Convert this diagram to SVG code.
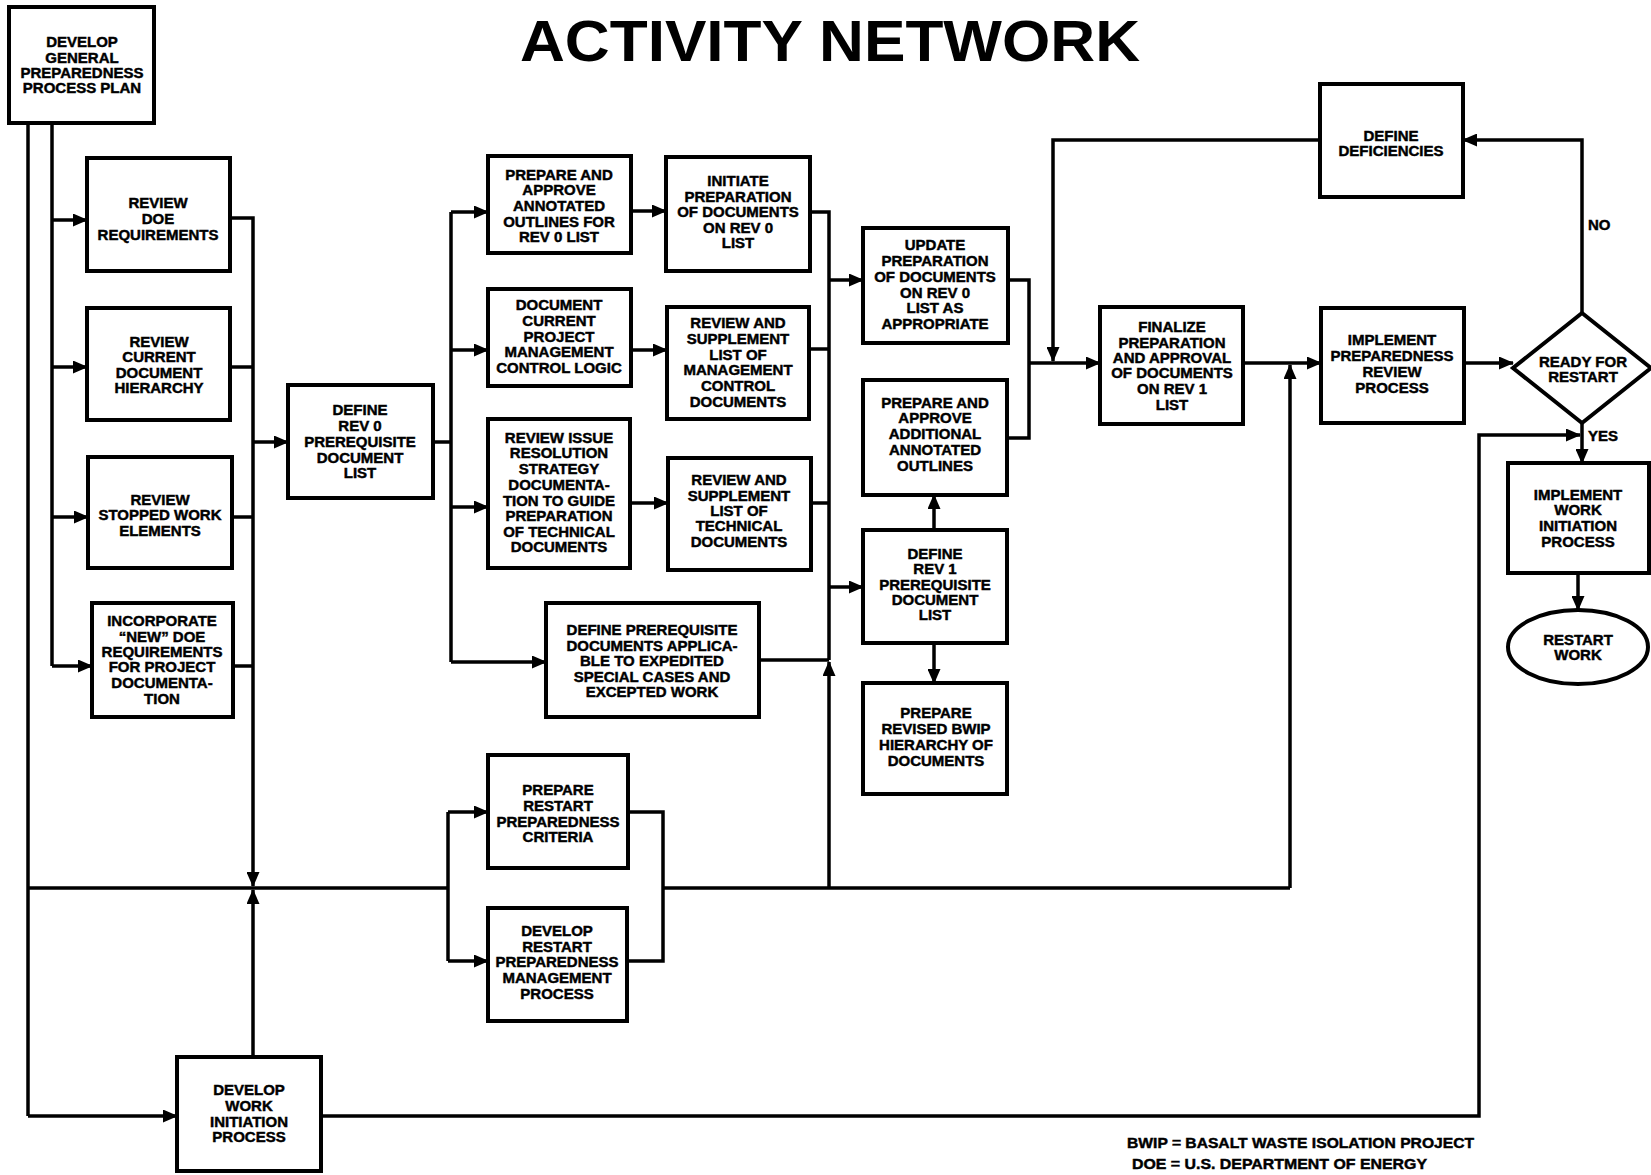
<svg xmlns="http://www.w3.org/2000/svg" width="1651" height="1175" viewBox="0 0 1651 1175">
<style>
.box{fill:#fff;stroke:#000;stroke-width:4}
.c{fill:none;stroke:#000;stroke-width:3.5;stroke-linejoin:miter}
.a{marker-end:url(#ah)}
.t{font-family:"Liberation Sans",Arial,Helvetica,sans-serif;font-weight:bold;font-size:15px;text-anchor:middle;fill:#000;stroke:#000;stroke-width:0.45}
.lbl{font-family:"Liberation Sans",Arial,Helvetica,sans-serif;font-weight:bold;font-size:15px;fill:#000;stroke:#000;stroke-width:0.45}
.title{font-family:"Liberation Sans",Arial,Helvetica,sans-serif;font-weight:bold;font-size:57px;text-anchor:middle;fill:#000}
</style>
<defs>
<marker id="ah" markerUnits="userSpaceOnUse" markerWidth="15" markerHeight="13" refX="14" refY="6.5" orient="auto">
<path d="M0,0 L15,6.5 L0,13 z" fill="#000"/>
</marker>
</defs>
<rect width="1651" height="1175" fill="#fff"/>
<text class="title" x="830" y="61" textLength="620" lengthAdjust="spacingAndGlyphs">ACTIVITY NETWORK</text>

<g id="connectors">
<path class="c" d="M28,123 V1116"/>
<path class="c a" d="M28,1116 H177"/>
<path class="c" d="M52,123 V666"/>
<path class="c a" d="M52,220 H87"/>
<path class="c a" d="M52,367 H87"/>
<path class="c a" d="M52,517 H88"/>
<path class="c a" d="M52,666 H92"/>
<path class="c" d="M28,888 H448"/>
<path class="c" d="M448,812 V961"/>
<path class="c a" d="M448,812 H488"/>
<path class="c a" d="M448,961 H488"/>
<path class="c" d="M230,218 H253 V442"/>
<path class="c a" d="M253,442 V886"/>
<path class="c" d="M230,367 H253"/>
<path class="c" d="M232,517 H253"/>
<path class="c" d="M233,666 H253"/>
<path class="c a" d="M253,442 H288"/>
<path class="c a" d="M253,1057 V890"/>
<path class="c" d="M433,442 H451"/>
<path class="c" d="M451,212 V662"/>
<path class="c a" d="M451,212 H488"/>
<path class="c a" d="M451,350 H488"/>
<path class="c a" d="M451,507 H488"/>
<path class="c a" d="M451,662 H546"/>
<path class="c a" d="M631,211 H666"/>
<path class="c a" d="M631,350 H667"/>
<path class="c a" d="M630,503 H668"/>
<path class="c" d="M810,212 H829 V660"/>
<path class="c" d="M809,349 H829"/>
<path class="c" d="M811,503 H829"/>
<path class="c" d="M759,660 H829"/>
<path class="c a" d="M829,280 H863"/>
<path class="c a" d="M829,587 H863"/>
<path class="c a" d="M829,888 V662"/>
<path class="c" d="M628,812 H663 V961 H627"/>
<path class="c" d="M663,888 H1290"/>
<path class="c a" d="M1290,888 V365"/>
<path class="c a" d="M934,530 V495"/>
<path class="c a" d="M934,643 V683"/>
<path class="c" d="M1008,280 H1029 V438 H1007"/>
<path class="c a" d="M1029,363 H1100"/>
<path class="c a" d="M1320,140 H1053 V361"/>
<path class="c a" d="M1243,363 H1321"/>
<path class="c a" d="M1464,363 H1513"/>
<path class="c a" d="M1582,313 V140 H1463"/>
<path class="c a" d="M1582,423 V463"/>
<path class="c a" d="M321,1116 H1479 V435 H1580"/>
<path class="c a" d="M1578,573 V610"/>
<text class="lbl" x="1588" y="230">NO</text>
<text class="lbl" x="1588" y="441">YES</text>
</g>

<g id="dev_general"><rect class="box" x="9" y="7" width="145" height="116"/>
<text class="t" x="82" y="47">DEVELOP</text><text class="t" x="82" y="63">GENERAL</text><text class="t" x="82" y="78">PREPAREDNESS</text><text class="t" x="82" y="93">PROCESS PLAN</text></g>

<g id="review_doe"><rect class="box" x="87" y="158" width="143" height="113"/>
<text class="t" x="158" y="208">REVIEW</text><text class="t" x="158" y="224">DOE</text><text class="t" x="158" y="240">REQUIREMENTS</text></g>

<g id="review_current"><rect class="box" x="87" y="308" width="143" height="112"/>
<text class="t" x="159" y="347">REVIEW</text><text class="t" x="159" y="362">CURRENT</text><text class="t" x="159" y="378">DOCUMENT</text><text class="t" x="159" y="393">HIERARCHY</text></g>

<g id="review_stopped"><rect class="box" x="88" y="457" width="144" height="111"/>
<text class="t" x="160" y="505">REVIEW</text><text class="t" x="160" y="520">STOPPED WORK</text><text class="t" x="160" y="536">ELEMENTS</text></g>

<g id="incorporate"><rect class="box" x="92" y="603" width="141" height="114"/>
<text class="t" x="162" y="626">INCORPORATE</text><text class="t" x="162" y="642">“NEW” DOE</text><text class="t" x="162" y="657">REQUIREMENTS</text><text class="t" x="162" y="672">FOR PROJECT</text><text class="t" x="162" y="688">DOCUMENTA-</text><text class="t" x="162" y="704">TION</text></g>

<g id="define_rev0"><rect class="box" x="288" y="385" width="145" height="113"/>
<text class="t" x="360" y="415">DEFINE</text><text class="t" x="360" y="431">REV 0</text><text class="t" x="360" y="447">PREREQUISITE</text><text class="t" x="360" y="463">DOCUMENT</text><text class="t" x="360" y="478">LIST</text></g>

<g id="prepare_annotated"><rect class="box" x="488" y="156" width="143" height="97"/>
<text class="t" x="559" y="180">PREPARE AND</text><text class="t" x="559" y="195">APPROVE</text><text class="t" x="559" y="211">ANNOTATED</text><text class="t" x="559" y="227">OUTLINES FOR</text><text class="t" x="559" y="242">REV 0 LIST</text></g>

<g id="initiate_prep"><rect class="box" x="666" y="157" width="144" height="114"/>
<text class="t" x="738" y="186">INITIATE</text><text class="t" x="738" y="202">PREPARATION</text><text class="t" x="738" y="217">OF DOCUMENTS</text><text class="t" x="738" y="233">ON REV 0</text><text class="t" x="738" y="248">LIST</text></g>

<g id="document_current"><rect class="box" x="488" y="289" width="143" height="97"/>
<text class="t" x="559" y="310">DOCUMENT</text><text class="t" x="559" y="326">CURRENT</text><text class="t" x="559" y="342">PROJECT</text><text class="t" x="559" y="357">MANAGEMENT</text><text class="t" x="559" y="373">CONTROL LOGIC</text></g>

<g id="review_supp_mgmt"><rect class="box" x="667" y="307" width="142" height="112"/>
<text class="t" x="738" y="328">REVIEW AND</text><text class="t" x="738" y="344">SUPPLEMENT</text><text class="t" x="738" y="360">LIST OF</text><text class="t" x="738" y="375">MANAGEMENT</text><text class="t" x="738" y="391">CONTROL</text><text class="t" x="738" y="407">DOCUMENTS</text></g>

<g id="review_issue"><rect class="box" x="488" y="419" width="142" height="149"/>
<text class="t" x="559" y="443">REVIEW ISSUE</text><text class="t" x="559" y="458">RESOLUTION</text><text class="t" x="559" y="474">STRATEGY</text><text class="t" x="559" y="490">DOCUMENTA-</text><text class="t" x="559" y="506">TION TO GUIDE</text><text class="t" x="559" y="521">PREPARATION</text><text class="t" x="559" y="537">OF TECHNICAL</text><text class="t" x="559" y="552">DOCUMENTS</text></g>

<g id="review_supp_tech"><rect class="box" x="668" y="458" width="143" height="112"/>
<text class="t" x="739" y="485">REVIEW AND</text><text class="t" x="739" y="501">SUPPLEMENT</text><text class="t" x="739" y="516">LIST OF</text><text class="t" x="739" y="531">TECHNICAL</text><text class="t" x="739" y="547">DOCUMENTS</text></g>

<g id="define_prereq_docs"><rect class="box" x="546" y="603" width="213" height="114"/>
<text class="t" x="652" y="635">DEFINE PREREQUISITE</text><text class="t" x="652" y="651">DOCUMENTS APPLICA-</text><text class="t" x="652" y="666">BLE TO EXPEDITED</text><text class="t" x="652" y="682">SPECIAL CASES AND</text><text class="t" x="652" y="697">EXCEPTED WORK</text></g>

<g id="update_prep"><rect class="box" x="863" y="228" width="145" height="115"/>
<text class="t" x="935" y="250">UPDATE</text><text class="t" x="935" y="266">PREPARATION</text><text class="t" x="935" y="282">OF DOCUMENTS</text><text class="t" x="935" y="298">ON REV 0</text><text class="t" x="935" y="313">LIST AS</text><text class="t" x="935" y="329">APPROPRIATE</text></g>

<g id="prepare_additional"><rect class="box" x="863" y="380" width="144" height="115"/>
<text class="t" x="935" y="408">PREPARE AND</text><text class="t" x="935" y="423">APPROVE</text><text class="t" x="935" y="439">ADDITIONAL</text><text class="t" x="935" y="455">ANNOTATED</text><text class="t" x="935" y="471">OUTLINES</text></g>

<g id="define_rev1"><rect class="box" x="863" y="530" width="144" height="113"/>
<text class="t" x="935" y="559">DEFINE</text><text class="t" x="935" y="574">REV 1</text><text class="t" x="935" y="590">PREREQUISITE</text><text class="t" x="935" y="605">DOCUMENT</text><text class="t" x="935" y="620">LIST</text></g>

<g id="prepare_revised_bwip"><rect class="box" x="863" y="683" width="144" height="111"/>
<text class="t" x="936" y="718">PREPARE</text><text class="t" x="936" y="734">REVISED BWIP</text><text class="t" x="936" y="750">HIERARCHY OF</text><text class="t" x="936" y="766">DOCUMENTS</text></g>

<g id="finalize"><rect class="box" x="1100" y="307" width="143" height="117"/>
<text class="t" x="1172" y="332">FINALIZE</text><text class="t" x="1172" y="348">PREPARATION</text><text class="t" x="1172" y="363">AND APPROVAL</text><text class="t" x="1172" y="378">OF DOCUMENTS</text><text class="t" x="1172" y="394">ON REV 1</text><text class="t" x="1172" y="410">LIST</text></g>

<g id="define_deficiencies"><rect class="box" x="1320" y="84" width="143" height="113"/>
<text class="t" x="1391" y="141">DEFINE</text><text class="t" x="1391" y="156">DEFICIENCIES</text></g>

<g id="implement_review"><rect class="box" x="1321" y="308" width="143" height="115"/>
<text class="t" x="1392" y="345">IMPLEMENT</text><text class="t" x="1392" y="361">PREPAREDNESS</text><text class="t" x="1392" y="377">REVIEW</text><text class="t" x="1392" y="393">PROCESS</text></g>

<g id="ready_for_restart"><polygon class="box" points="1582,313 1651,368 1582,423 1513,368"/>
<text class="t" x="1583" y="367">READY FOR</text><text class="t" x="1583" y="382">RESTART</text></g>

<g id="implement_work"><rect class="box" x="1508" y="463" width="141" height="110"/>
<text class="t" x="1578" y="500">IMPLEMENT</text><text class="t" x="1578" y="515">WORK</text><text class="t" x="1578" y="531">INITIATION</text><text class="t" x="1578" y="547">PROCESS</text></g>

<g id="restart_work"><ellipse class="box" cx="1578" cy="647" rx="70" ry="37"/>
<text class="t" x="1578" y="645">RESTART</text><text class="t" x="1578" y="660">WORK</text></g>

<g id="prepare_restart_criteria"><rect class="box" x="488" y="755" width="140" height="113"/>
<text class="t" x="558" y="795">PREPARE</text><text class="t" x="558" y="811">RESTART</text><text class="t" x="558" y="827">PREPAREDNESS</text><text class="t" x="558" y="842">CRITERIA</text></g>

<g id="develop_restart_mgmt"><rect class="box" x="488" y="908" width="139" height="113"/>
<text class="t" x="557" y="936">DEVELOP</text><text class="t" x="557" y="952">RESTART</text><text class="t" x="557" y="967">PREPAREDNESS</text><text class="t" x="557" y="983">MANAGEMENT</text><text class="t" x="557" y="999">PROCESS</text></g>

<g id="develop_work"><rect class="box" x="177" y="1057" width="144" height="114"/>
<text class="t" x="249" y="1095">DEVELOP</text><text class="t" x="249" y="1111">WORK</text><text class="t" x="249" y="1127">INITIATION</text><text class="t" x="249" y="1142">PROCESS</text></g>

<g id="legend">
<text class="lbl" x="1127" y="1148" textLength="347" lengthAdjust="spacingAndGlyphs">BWIP = BASALT WASTE ISOLATION PROJECT</text>
<text class="lbl" x="1132" y="1169" textLength="295" lengthAdjust="spacingAndGlyphs">DOE = U.S. DEPARTMENT OF ENERGY</text>
</g>
</svg>
